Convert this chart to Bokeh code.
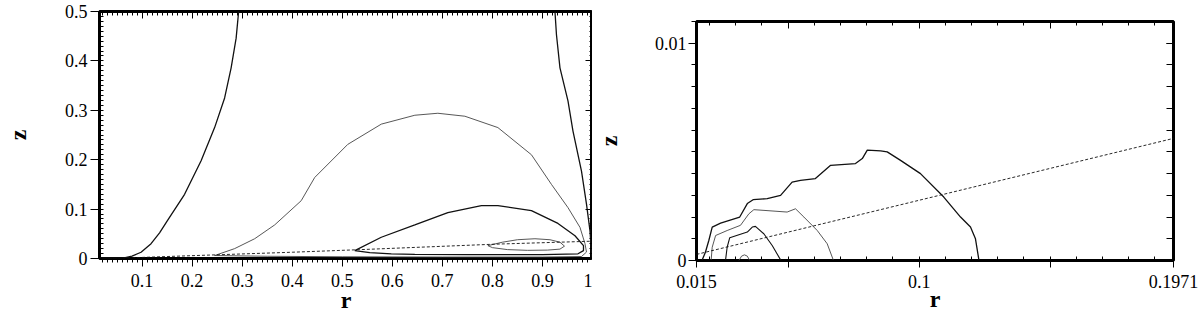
from bokeh.plotting import figure
from bokeh.models import LinearAxis, FixedTicker, CustomJSTickFormatter, Range1d
from bokeh.layouts import row
from bokeh.embed import file_html
from bokeh.resources import INLINE

# ---------------- data: left panel (r, z) ----------------
a_r = [0.015, 0.05, 0.064, 0.08, 0.098, 0.118, 0.135, 0.151, 0.185, 0.218, 0.245, 0.265, 0.278, 0.288, 0.293]
a_z = [0.0005, 0.0005, 0.0014, 0.005, 0.0127, 0.03, 0.052, 0.077, 0.13, 0.198, 0.265, 0.325, 0.386, 0.446, 0.5]

b_r = [0.245, 0.285, 0.325, 0.365, 0.418, 0.445, 0.511, 0.578, 0.645, 0.691, 0.745, 0.811, 0.878,
       0.918, 0.951, 0.975, 0.985, 0.988, 0.978, 0.9, 0.7, 0.5, 0.35, 0.245]
b_z = [0.006, 0.02, 0.04, 0.068, 0.117, 0.164, 0.231, 0.272, 0.29, 0.294, 0.288, 0.265, 0.21,
       0.15, 0.103, 0.063, 0.03, 0.013, 0.004, 0.003, 0.003, 0.0035, 0.0045, 0.006]

c_r = [0.525, 0.578, 0.645, 0.711, 0.778, 0.811, 0.878, 0.931, 0.965, 0.982, 0.982, 0.971,
       0.9, 0.75, 0.645, 0.598, 0.555, 0.525]
c_z = [0.016, 0.043, 0.068, 0.093, 0.107, 0.107, 0.097, 0.071, 0.046, 0.026, 0.016, 0.0095,
       0.008, 0.008, 0.0085, 0.0095, 0.012, 0.016]

d_r = [0.791, 0.82, 0.85, 0.885, 0.915, 0.935, 0.944, 0.935, 0.91, 0.87, 0.83, 0.80, 0.791]
d_z = [0.026, 0.033, 0.038, 0.040, 0.038, 0.033, 0.025, 0.019, 0.017, 0.0165, 0.018, 0.022, 0.026]

e_r = [0.925, 0.928, 0.935, 0.951, 0.961, 0.978, 0.988, 0.995, 0.998, 0.999]
e_z = [0.5, 0.453, 0.386, 0.319, 0.258, 0.177, 0.11, 0.056, 0.0095, 0.002]

dash_l_r = [0.06, 0.15, 0.4, 0.525, 0.805, 0.998]
dash_l_z = [0.0007, 0.004, 0.0127, 0.0175, 0.029, 0.035]

# ---------------- data: right panel (r, z) ----------------
r1_r = [0.0172, 0.0184, 0.0197, 0.021, 0.0242, 0.0315, 0.0344, 0.0366, 0.042, 0.0471, 0.0515, 0.0547,
        0.0604, 0.0662, 0.0757, 0.0783, 0.0802, 0.0853, 0.0878, 0.0929, 0.1005, 0.1094, 0.1158,
        0.1196, 0.1215, 0.1228]
r1_z = [0.00003, 0.00038, 0.00092, 0.00154, 0.00172, 0.002, 0.00262, 0.0028, 0.00285, 0.003, 0.00361,
        0.00369, 0.00377, 0.00438, 0.00446, 0.00469, 0.00508, 0.00505, 0.005, 0.00461, 0.004, 0.00292,
        0.002, 0.00154, 0.001, 0.00003]

r2_r = [0.0206, 0.021, 0.0223, 0.0267, 0.0318, 0.035, 0.0369, 0.0496, 0.0528, 0.056, 0.0611, 0.0649, 0.0672]
r2_z = [0.00003, 0.00061, 0.00115, 0.00138, 0.00162, 0.00215, 0.00234, 0.00223, 0.00238, 0.002, 0.00138,
        0.00077, 0.00003]

r3_r = [0.0261, 0.0267, 0.0277, 0.0344, 0.0363, 0.0375, 0.0407, 0.0439, 0.0471]
r3_z = [0.00003, 0.00061, 0.00105, 0.00131, 0.00154, 0.00157, 0.00123, 0.00069, 0.00003]

r4_r = [0.0312, 0.0322, 0.0333, 0.0344, 0.0353]
r4_z = [0.0, 0.0002, 0.00026, 0.0002, 0.0]

dash_r_r = [0.015, 0.1971]
dash_r_z = [0.00028, 0.00562]

# tick positions
left_x_major = [0.1, 0.2, 0.3, 0.4, 0.5, 0.6, 0.7, 0.8, 0.9, 1.0]
left_x_minor = [round(0.01 * i, 4) for i in range(2, 100)]
left_y_major = [0.0, 0.1, 0.2, 0.3, 0.4, 0.5]
left_y_minor = [round(0.01 * i, 4) for i in range(1, 50)]
right_x_major = [0.015, 0.05, 0.1, 0.15, 0.1971]
right_x_minor = [round(0.01 * i, 4) for i in range(2, 20)]
right_y_major = [0.0, 0.01]
right_y_minor = [round(0.001 * i, 4) for i in range(1, 12)]

SERIF = "Liberation Serif"
num_fmt = CustomJSTickFormatter(code="""
if (Math.abs(tick-0.05)<1e-9 || Math.abs(tick-0.15)<1e-9) { return ""; }
return String(parseFloat(tick.toFixed(6)));
""")
blank_fmt = CustomJSTickFormatter(code="return '';")


def style_main(ax, tin, tout, min_in, min_out, label, standoff, lab_standoff):
    ax.axis_line_color = None
    ax.major_tick_in = tin
    ax.major_tick_out = tout
    ax.minor_tick_in = min_in
    ax.minor_tick_out = min_out
    ax.major_tick_line_width = 1
    ax.minor_tick_line_width = 1
    ax.major_tick_line_color = "black"
    ax.minor_tick_line_color = "black"
    ax.major_label_text_font = SERIF
    ax.major_label_text_font_size = "18px"
    ax.major_label_text_color = "black"
    ax.major_label_standoff = lab_standoff
    ax.formatter = num_fmt
    ax.axis_label = label
    ax.axis_label_text_font = SERIF
    ax.axis_label_text_font_style = "bold"
    ax.axis_label_text_font_size = "24px"
    ax.axis_label_text_color = "black"
    ax.axis_label_standoff = standoff


def extra_axis(p, loc, ticker, maj_in, min_in):
    ax = LinearAxis(ticker=ticker, formatter=blank_fmt)
    ax.axis_line_color = None
    ax.major_tick_in = maj_in
    ax.major_tick_out = 0
    ax.minor_tick_in = min_in
    ax.minor_tick_out = 0
    ax.major_tick_line_color = "black"
    ax.minor_tick_line_color = "black"
    ax.major_label_text_font_size = "0px"
    ax.major_label_standoff = 0
    p.add_layout(ax, loc)


def make_fig(w, xr, yr, bl, br, bt, bb):
    p = figure(width=w, height=317, x_range=Range1d(*xr), y_range=Range1d(*yr),
               output_backend="svg", toolbar_location=None,
               min_border_left=bl, min_border_right=br, min_border_top=bt, min_border_bottom=bb)
    p.frame_align = False
    p.grid.visible = False
    p.outline_line_color = "black"
    p.outline_line_width = 3
    p.background_fill_color = "white"
    p.border_fill_color = "white"
    return p


# ---------------- left panel ----------------
p1 = make_fig(592, (0.015, 1.0), (0.0, 0.5), 99, 0, 11, 59)
p1.xaxis.ticker = FixedTicker(ticks=left_x_major, minor_ticks=left_x_minor)
p1.yaxis.ticker = FixedTicker(ticks=left_y_major, minor_ticks=left_y_minor)
style_main(p1.xaxis[0], 0, 8, 0, 4, "r", -3, 7)
style_main(p1.yaxis[0], 3, 9, 4, 0, "z", 31, 3)
extra_axis(p1, "above", FixedTicker(ticks=left_x_major, minor_ticks=left_x_minor), 7, 4)
extra_axis(p1, "right", FixedTicker(ticks=left_y_major, minor_ticks=left_y_minor), 7, 3)

dark, gray = "#111111", "#444444"
p1.line(a_r, a_z, line_color=dark, line_width=1.3)
p1.line(b_r, b_z, line_color=gray, line_width=0.9)
p1.line(c_r, c_z, line_color=dark, line_width=1.3)
p1.line(d_r, d_z, line_color=gray, line_width=0.9)
p1.line(e_r, e_z, line_color=dark, line_width=1.3)
p1.line(dash_l_r, dash_l_z, line_color=dark, line_width=0.9, line_dash="3 2")

# ---------------- right panel ----------------
p2 = make_fig(608, (0.015, 0.1971), (0.0, 0.011), 104, 27, 21, 57)
p2.xaxis.ticker = FixedTicker(ticks=right_x_major, minor_ticks=right_x_minor)
p2.yaxis.ticker = FixedTicker(ticks=right_y_major, minor_ticks=right_y_minor)
style_main(p2.xaxis[0], 0, 7, 4, 0, "r", -5, 7)
style_main(p2.yaxis[0], 0, 8, 0, 5, "z", 30, 2)
extra_axis(p2, "above", FixedTicker(ticks=[0.05, 0.1, 0.15], minor_ticks=right_x_minor), 7, 4)
extra_axis(p2, "right", FixedTicker(ticks=right_y_major, minor_ticks=right_y_minor), 7, 7)

p2.line(r1_r, r1_z, line_color=dark, line_width=1.3)
p2.line(r2_r, r2_z, line_color=gray, line_width=0.9)
p2.line(r3_r, r3_z, line_color=dark, line_width=1.1)
p2.line(r4_r, r4_z, line_color=gray, line_width=0.9)
p2.line(dash_r_r, dash_r_z, line_color=dark, line_width=0.9, line_dash="3 2")

layout = row(p1, p2)
open("out.html", "w").write(file_html(layout, INLINE))
